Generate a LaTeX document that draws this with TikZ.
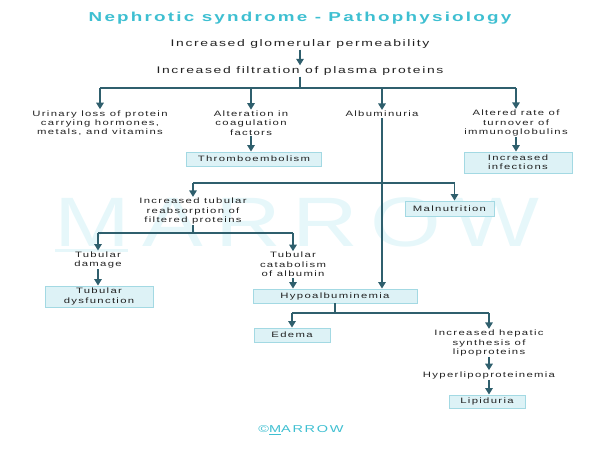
\documentclass[tikz,border=0pt]{standalone}
\usepackage{fontspec}
\setmainfont{Liberation Sans}[FakeStretch=1.45, LetterSpace=17]
\newfontfamily\wmfont{Liberation Sans}[FakeStretch=1.3, LetterSpace=17]
\usetikzlibrary{arrows.meta}
\definecolor{ln}{HTML}{2F5F6D}
\definecolor{boxfill}{HTML}{DDF2F6}
\definecolor{boxdraw}{HTML}{A3D9E3}
\definecolor{ttl}{HTML}{3EBFD1}
\definecolor{wm}{HTML}{E6F7FA}
\definecolor{txc}{HTML}{222222}
\tikzset{
  txt/.style={align=center, font=\fontsize{7.8}{9.3}\selectfont, text=txc, inner sep=1pt},
  toptxt/.style={txt, font=\fontsize{9.6}{10}\selectfont},
  bx/.style={txt, draw=boxdraw, fill=boxfill, line width=0.9pt, inner sep=0pt},
  con/.style={draw=ln, line width=1.5pt},
  arr/.style={con, -{Triangle[width=7.5pt,length=6.5pt]}},
}
\begin{document}
\begin{tikzpicture}[x=1pt,y=-1pt]
\useasboundingbox (0,0) rectangle (600,450);
% watermark
\node[font=\wmfont\fontsize{70}{70}\selectfont, text=wm, inner sep=0pt] (wmark) at (297,222) {MARROW};
\draw[wm, line width=3pt] (55,250) -- (128,250);
% title
\node[font=\bfseries\fontsize{13}{13}\selectfont, text=ttl] (title) at (300,18) {Nephrotic syndrome - Pathophysiology};
% nodes
\node[toptxt] (glom) at (300,44) {Increased glomerular permeability};
\node[toptxt] (filt) at (300,71) {Increased filtration of plasma proteins};
\node[txt] (urin) at (100,123) {Urinary loss of protein\\carrying hormones,\\metals, and vitamins};
\node[txt] (alt) at (251,123) {Alteration in\\coagulation\\factors};
\node[txt] (alb) at (382,114) {Albuminuria};
\node[txt] (altr) at (516,123) {Altered rate of\\turnover of\\immunoglobulins};
\node[bx, minimum width=135pt, minimum height=14pt] (thromb) at (254,159) {Thromboembolism};
\node[bx, minimum width=108pt, minimum height=21pt] (inf) at (518,162.5) {Increased\\infections};
\node[txt] (reab) at (193,211) {Increased tubular\\reabsorption of\\filtered proteins};
\node[bx, minimum width=89pt, minimum height=15pt] (mal) at (449.5,208.5) {Malnutrition};
\node[txt] (tdam) at (98,260) {Tubular\\damage};
\node[bx, minimum width=108pt, minimum height=21pt] (tdys) at (99,296.5) {Tubular\\dysfunction};
\node[txt] (tcat) at (293,264.5) {Tubular\\catabolism\\of albumin};
\node[bx, minimum width=164pt, minimum height=14pt] (hypo) at (335,296) {Hypoalbuminemia};
\node[bx, minimum width=76pt, minimum height=14pt] (edema) at (292,335) {Edema};
\node[txt] (hep) at (489,343) {Increased hepatic\\synthesis of\\lipoproteins};
\node[txt] (hyper) at (489,375) {Hyperlipoproteinemia};
\node[bx, minimum width=76pt, minimum height=13pt] (lip) at (487,401.5) {Lipiduria};
\node[font=\fontsize{10}{10}\selectfont, text=ttl] (copy) at (301,430) {©\underline{M}ARROW};
% junctions
\coordinate (j1) at (300,88);
\coordinate (j2) at (382,183);
\coordinate (j3) at (193,233);
\coordinate (j4) at (335,313);
\coordinate (malx) at ([xshift=5pt]mal.north);
% connectors
\draw[arr] (glom.south) -- (filt.north);
\draw[con] (filt.south) -- (j1);
\draw[con] (j1 -| urin) -- (j1 -| altr);
\draw[arr] (j1 -| urin) -- (urin.north);
\draw[arr] (j1 -| alt) -- (alt.north);
\draw[arr] (j1 -| alb) -- (alb.north);
\draw[arr] (j1 -| altr) -- (altr.north);
\draw[arr] (alt.south) -- (alt.south |- thromb.north);
\draw[arr] (altr.south) -- (altr.south |- inf.north);
\draw[arr] (alb.south) -- (alb.south |- hypo.north);
\draw[con] (j2 -| reab) -- (j2 -| malx);
\draw[arr] (j2 -| reab) -- (reab.north);
\draw[arr] (j2 -| malx) -- (malx);
\draw[con] (reab.south) -- (j3);
\draw[con] (j3 -| tdam) -- (j3 -| tcat);
\draw[arr] (j3 -| tdam) -- (tdam.north);
\draw[arr] (j3 -| tcat) -- (tcat.north);
\draw[arr] (tdam.south) -- (tdam.south |- tdys.north);
\draw[arr] (tcat.south) -- (tcat.south |- hypo.north);
\draw[con] (hypo.south) -- (j4);
\draw[con] (j4 -| edema) -- (j4 -| hep);
\draw[arr] (j4 -| edema) -- (edema.north);
\draw[arr] (j4 -| hep) -- (hep.north);
\draw[arr] (hep.south) -- (hyper.north);
\draw[arr] (hyper.south) -- (hyper.south |- lip.north);
\end{tikzpicture}
\end{document}
